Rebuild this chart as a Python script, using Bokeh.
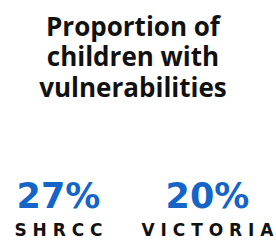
from bokeh.plotting import figure
from bokeh.models import ColumnDataSource, Range1d
from bokeh.core.properties import value
from bokeh.embed import file_html
from bokeh.resources import INLINE

title_lines = ["Proportion of", "children with", "vulnerabilities"]
regions = ["SHRCC", "VICTORIA"]
proportions = [27, 20]

idx = list(range(len(regions)))

p = figure(width=276, height=243, output_backend="svg", toolbar_location=None,
           x_range=Range1d(-0.389, 1.463), y_range=Range1d(243, 0),
           x_axis_location=None, y_axis_location=None, min_border=0)
p.grid.visible = False
p.outline_line_color = None
p.background_fill_color = "white"
p.border_fill_color = "white"

title_src = ColumnDataSource(dict(x=[(idx[0] + idx[-1]) / 2], y=[7], text=["\n".join(title_lines)]))
p.text(x="x", y="y", text="text", source=title_src,
       text_font=value("Open Sans"), text_font_style="bold", text_font_size="26px",
       text_align="center", text_baseline="top", text_line_height=0.85, text_color="#111111")

num_src = ColumnDataSource(dict(x=idx, y=[195] * len(idx), text=[f"{v}%" for v in proportions]))
p.text(x="x", y="y", text="text", source=num_src,
       text_font=value("DejaVu Sans"), text_font_style="bold", text_font_size="35px",
       text_align="center", text_baseline="alphabetic", text_color="#1565C8")

lab_src = ColumnDataSource(dict(x=idx, y=[229] * len(idx), text=[" ".join(list(r)) for r in regions]))
p.text(x="x", y="y", text="text", source=lab_src,
       text_font=value("DejaVu Sans"), text_font_style="bold", text_font_size="17px",
       text_align="center", text_baseline="alphabetic", text_color="#111111")

open("out.html", "w").write(file_html(p, INLINE))
